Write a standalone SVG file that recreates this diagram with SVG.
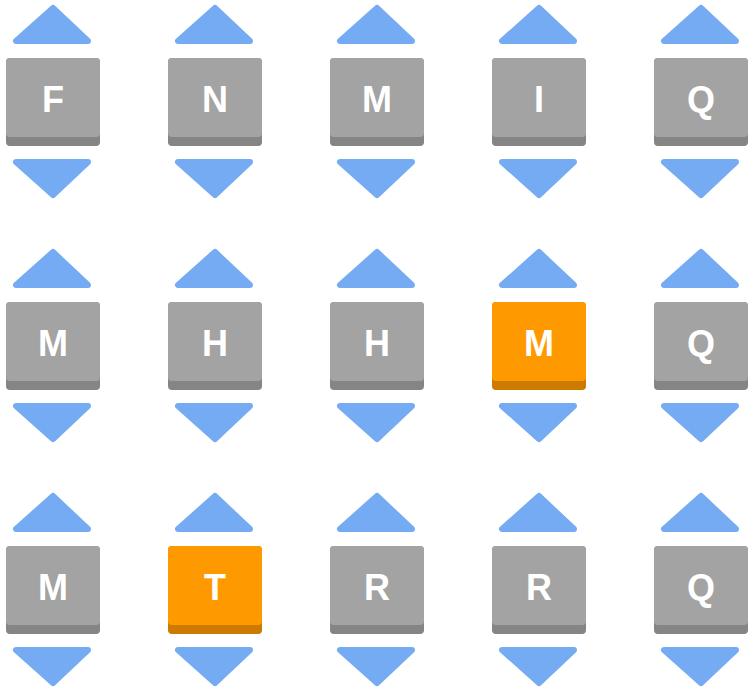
<svg xmlns="http://www.w3.org/2000/svg" width="752" height="688" viewBox="0 0 752 688">
<style>
.t{fill:#75abf2;stroke:#75abf2;stroke-width:6;stroke-linejoin:round}
.sh{fill:#858585}.fc{fill:#a3a3a3}
.osh{fill:#cc7a00}.ofc{fill:#ff9900}
.l{font-family:"Liberation Sans",Arial,sans-serif;font-weight:bold;font-size:36px;fill:#fff;text-anchor:middle}
</style>
<defs>
<g id="arrows"><polygon class="t" points="53,8 16,41 88,41"/><polygon class="t" points="16,162 88,162 53,195"/></g>
<g id="g"><use href="#arrows"/><rect class="sh" x="6" y="58" width="94" height="88" rx="4"/><rect class="fc" x="6" y="58" width="94" height="79" rx="4"/></g>
<g id="o"><use href="#arrows"/><rect class="osh" x="6" y="58" width="94" height="88" rx="4"/><rect class="ofc" x="6" y="58" width="94" height="79" rx="4"/></g>
</defs>
<g id="n00" transform="translate(0,0)"><use href="#g"/><text class="l" x="53" y="112">F</text></g>
<g id="n01" transform="translate(162,0)"><use href="#g"/><text class="l" x="53" y="112">N</text></g>
<g id="n02" transform="translate(324,0)"><use href="#g"/><text class="l" x="53" y="112">M</text></g>
<g id="n03" transform="translate(486,0)"><use href="#g"/><text class="l" x="53" y="112">I</text></g>
<g id="n04" transform="translate(648,0)"><use href="#g"/><text class="l" x="53" y="112">Q</text></g>
<g id="n10" transform="translate(0,244)"><use href="#g"/><text class="l" x="53" y="112">M</text></g>
<g id="n11" transform="translate(162,244)"><use href="#g"/><text class="l" x="53" y="112">H</text></g>
<g id="n12" transform="translate(324,244)"><use href="#g"/><text class="l" x="53" y="112">H</text></g>
<g id="n13" transform="translate(486,244)"><use href="#o"/><text class="l" x="53" y="112">M</text></g>
<g id="n14" transform="translate(648,244)"><use href="#g"/><text class="l" x="53" y="112">Q</text></g>
<g id="n20" transform="translate(0,488)"><use href="#g"/><text class="l" x="53" y="112">M</text></g>
<g id="n21" transform="translate(162,488)"><use href="#o"/><text class="l" x="53" y="112">T</text></g>
<g id="n22" transform="translate(324,488)"><use href="#g"/><text class="l" x="53" y="112">R</text></g>
<g id="n23" transform="translate(486,488)"><use href="#g"/><text class="l" x="53" y="112">R</text></g>
<g id="n24" transform="translate(648,488)"><use href="#g"/><text class="l" x="53" y="112">Q</text></g>
<g id="connectors"></g>
</svg>
